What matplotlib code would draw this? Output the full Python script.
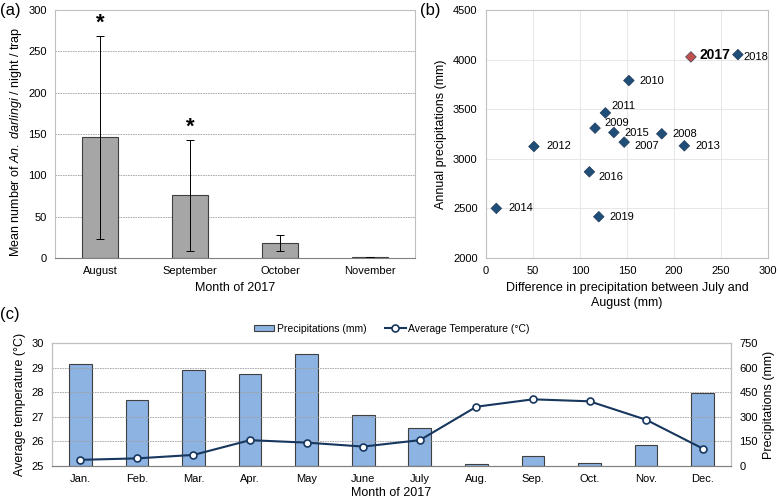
import numpy as np
import matplotlib
matplotlib.use("Agg")
import matplotlib.pyplot as plt

plt.rcParams['font.family'] = ['Liberation Sans', 'DejaVu Sans']
plt.rcParams['mathtext.fontset'] = 'custom'
plt.rcParams['mathtext.it'] = 'Liberation Sans:italic'
plt.rcParams['mathtext.rm'] = 'Liberation Sans'

# (a) mosquito counts
months_a = ['August', 'September', 'October', 'November']
mean_a = [146, 76, 18, 1]
err_a = [123, 67, 10, 0]
signif_a = [True, True, False, False]

# (b) precipitation by year
years_b = ['2007', '2008', '2009', '2010', '2011', '2012', '2013',
           '2014', '2015', '2016', '2017', '2018', '2019']
diff_b = [147, 187, 116, 152, 127, 51, 211, 11, 136, 110, 218, 268, 120]
annual_b = [3168, 3252, 3309, 3789, 3463, 3124, 3131, 2500, 3265, 2869, 4027, 4050, 2416]
# label offsets in pixels (dx, dy)
offs_b = {'2007': (10, -4), '2008': (11, 0), '2009': (9, 5), '2010': (11, 0),
          '2011': (6, 7), '2012': (12, 0), '2013': (11, 0), '2014': (12, 0),
          '2015': (11, 0), '2016': (9, -5), '2017': (9, 2), '2018': (6, -2),
          '2019': (11, 0)}

# (c) 2017 monthly climate
months_c = ['Jan.', 'Feb.', 'Mar.', 'Apr.', 'May', 'June', 'July',
            'Aug.', 'Sep.', 'Oct.', 'Nov.', 'Dec.']
precip_c = [620, 401, 585, 562, 685, 311, 229, 12, 59, 16, 127, 444]
temp_c = [25.25, 25.31, 25.45, 26.05, 25.95, 25.79, 26.05, 27.41, 27.71, 27.63, 26.88, 25.71]

W, H = 778, 501
fig = plt.figure(figsize=(W / 100, H / 100), dpi=100)


def box(l, t, r, b):
    return [l / W, 1 - b / H, (r - l) / W, (b - t) / H]


tick_fs = 8
lab_fs = 9
light = '#bfbfbf'

# ---- (a)
ax1 = fig.add_axes(box(55, 10, 415, 258))
x = np.arange(len(months_a))
ax1.bar(x, mean_a, width=0.4, color='#a6a6a6', edgecolor='#404040', linewidth=0.8, zorder=2)
ax1.errorbar(x, mean_a, yerr=err_a, fmt='none', ecolor='black', elinewidth=0.7,
             capsize=3, capthick=0.7, zorder=3)
for xi, m, e, s in zip(x, mean_a, err_a, signif_a):
    if s:
        ax1.text(xi, m + e + 2, '*', ha='center', va='bottom', fontsize=16, fontweight='bold')
ax1.set_ylim(0, 300)
ax1.set_xlim(-0.5, 3.5)
ax1.set_yticks(range(0, 301, 50))
ax1.set_xticks(x)
ax1.set_xticklabels(months_a)
ax1.yaxis.grid(True, linestyle=(0, (2, 1)), color='#a0a0a0', linewidth=0.6)
ax1.set_axisbelow(True)
ax1.tick_params(length=0, labelsize=tick_fs, pad=6)
for s in ['top', 'right', 'left']:
    ax1.spines[s].set_color(light)
ax1.spines['bottom'].set_color('#808080')
ax1.set_ylabel('Mean number of $\\mathit{An.\\ darlingi}$ / night / trap', fontsize=lab_fs)
ax1.yaxis.set_label_coords(-0.085, 0.47)
ax1.set_xlabel('Month of 2017', fontsize=lab_fs, labelpad=4)
fig.text(0 / W, 1 - 10 / H, '(a)', fontsize=12, va='center', ha='left')

# ---- (b)
ax2 = fig.add_axes(box(486, 10, 768, 258))
cols = ['#c0504d' if y == '2017' else '#1f4e79' for y in years_b]
ax2.scatter(diff_b, annual_b, marker='D', s=30, c=cols, edgecolors='#1f3050',
            linewidths=0.4, zorder=3)
for y, dx, dy in zip(years_b, diff_b, annual_b):
    ox, oy = offs_b[y]
    if y == '2017':
        ax2.annotate(y, (dx, dy), xytext=(ox, oy), textcoords='offset pixels',
                     ha='left', va='center', fontsize=10, fontweight='bold')
    else:
        ax2.annotate(y, (dx, dy), xytext=(ox, oy), textcoords='offset pixels',
                     ha='left', va='center', fontsize=tick_fs)
ax2.set_xlim(0, 300)
ax2.set_ylim(2000, 4500)
ax2.set_xticks(range(0, 301, 50))
ax2.set_yticks(range(2000, 4501, 500))
ax2.grid(True, color='#e3e3e3', linewidth=0.6)
ax2.set_axisbelow(True)
ax2.tick_params(length=0, labelsize=tick_fs, pad=6)
for s in ax2.spines.values():
    s.set_color(light)
ax2.set_ylabel('Annual precipitations (mm)', fontsize=lab_fs)
ax2.set_xlabel('Difference in precipitation between July and\nAugust (mm)',
               fontsize=lab_fs, labelpad=4, linespacing=1.4)
fig.text(420 / W, 1 - 10 / H, '(b)', fontsize=12, va='center', ha='left')

# ---- (c)
ax3 = fig.add_axes(box(52, 343, 731, 466))
ax4 = ax3.twinx()
xc = np.arange(len(months_c))
bars = ax4.bar(xc, precip_c, width=0.4, color='#8db3e2', edgecolor='#404040',
               linewidth=0.8, zorder=2, label='Precipitations (mm)')
ax4.set_ylim(0, 750)
ax4.set_yticks(range(0, 751, 150))
line, = ax3.plot(xc, temp_c, color='#17375e', linewidth=1.5, marker='o', markersize=5,
                 markerfacecolor='white', markeredgecolor='#17375e', markeredgewidth=1.2,
                 label='Average Temperature (°C)', zorder=5)
ax3.set_zorder(ax4.get_zorder() + 1)
ax3.patch.set_visible(False)
ax3.set_ylim(25, 30)
ax3.set_xlim(-0.5, 11.5)
ax3.set_xticks(xc)
ax3.set_xticklabels(months_c)
ax3.yaxis.grid(True, linestyle=(0, (2, 1)), color='#a0a0a0', linewidth=0.6)
ax3.tick_params(length=0, labelsize=tick_fs, pad=6)
ax4.tick_params(length=0, labelsize=tick_fs, pad=6)
for a in (ax3, ax4):
    for s in ['top', 'right', 'left']:
        a.spines[s].set_color(light)
    a.spines['bottom'].set_color('#808080')
ax3.set_ylabel('Average temperature (°C)', fontsize=lab_fs)
ax4.set_ylabel('Precipitations (mm)', fontsize=lab_fs)
ax3.set_xlabel('Month of 2017', fontsize=lab_fs, labelpad=2)
ax3.legend([bars, line], ['Precipitations (mm)', 'Average Temperature (°C)'],
           loc='lower center', bbox_to_anchor=(0.5, 1.0), ncol=2, frameon=False,
           fontsize=7.5, handlelength=2.0, handleheight=0.5, handletextpad=0.2,
           columnspacing=1.8)
fig.text(0 / W, 1 - 315 / H, '(c)', fontsize=12, va='center', ha='left')

fig.savefig('out.png', dpi=100)
